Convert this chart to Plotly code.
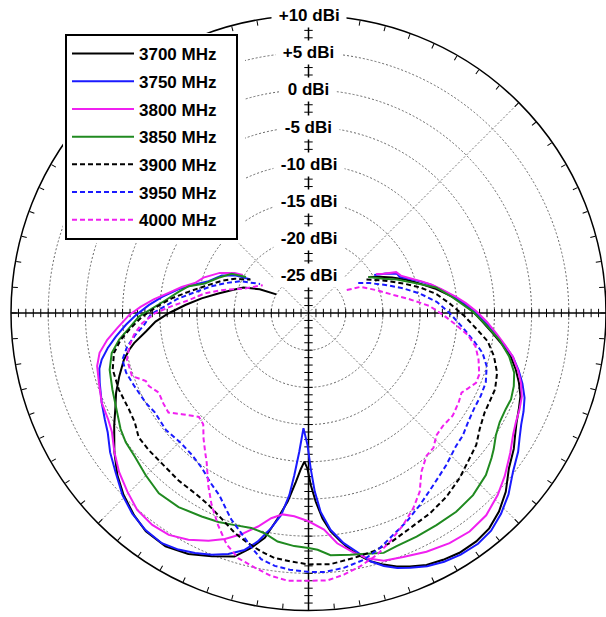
import plotly.graph_objects as go

# ---------------- data (angle in degrees clockwise from top, gain in dBi) ----------------
theta_3700 = [59, 63, 67, 71, 75, 79, 83.6, 86.4, 89.5, 92.8, 96.2, 99.3, 102.1, 105.3, 108.3, 111.4,
              114.6, 117.7, 120.7, 123.5, 127.8, 132.2, 136.2, 140, 143.7, 147.8, 151.4, 154.9, 158.2,
              160.8, 163.4, 166, 168, 170, 172, 174.2, 176.1, 177.8, 179.2, 180.4, 181.6, 182.8, 184.3,
              186.3, 188.5, 191, 193.7, 195.6, 196.9, 201.7, 206.5, 211.5, 216.7, 220.8, 225.4, 229.7,
              234.4, 239.9, 243.6, 247.5, 251.6, 255.8, 258.4, 260.2, 263.5, 266.8, 269.9, 273.7, 277.8,
              282.2, 286.5, 291.3, 296, 300]
gain_3700 = [-20.6, -19.3, -17.8, -16.2, -14.6, -12.7, -10.5, -9.2, -7.9, -6.6, -5.1, -3.6, -2.2, -1.1,
             -0.2, 0.6, 1.1, 1.6, 2.3, 3.1, 4.1, 5.8, 7.0, 7.8, 8.1, 8.1, 7.8, 7.4, 6.7, 6.1, 5.3, 4.4,
             3.4, 2.3, 1.0, -0.5, -2.3, -4.6, -6.8, -9.1, -10.0, -9.0, -7.2, -4.5, -2.1, 0.8, 2.5, 3.5,
             4.2, 5.2, 6.2, 6.8, 6.6, 5.9, 4.9, 3.7, 2.1, 0.2, -1.0, -2.0, -3.2, -4.4, -5.4, -6.2, -8.0,
             -9.4, -11.2, -13.4, -15.5, -17.6, -19.2, -20.6, -22.7, -25.0]

theta_3750 = [60, 63, 66, 68.5, 70.5, 74.4, 77, 80, 83.6, 86.4, 89.5, 92.8, 96.2, 99.3, 102.1, 105.3,
              108.3, 111.4, 114.6, 117.7, 120.7, 123.5, 127.8, 132.2, 136.2, 140, 143.7, 147.8, 151.4,
              154.9, 158.2, 160.8, 163.4, 166, 168.5, 171.3, 174.2, 176.5, 178, 179.2, 180.4, 182.5,
              183.8, 185, 186, 187.7, 189.9, 192.5, 195.1, 198.4, 201.8, 205.3, 208.8, 212.5, 216.9,
              221.3, 225.6, 230.2, 234.9, 239.3, 242.4, 246.6, 251.5, 255.1, 257.3, 260.1, 263, 266.3,
              269.3, 272.8, 276.3, 280.3, 283.4, 287.7, 293.4, 297.1, 300]
gain_3750 = [-19.8, -18.3, -17.0, -16.8, -16.0, -14.3, -13.1, -11.9, -10.3, -9.0, -7.7, -6.3, -4.8, -3.3,
             -1.9, -0.7, 0.3, 1.2, 1.8, 2.3, 3.0, 3.8, 4.8, 6.3, 7.4, 8.2, 8.5, 8.4, 8.1, 7.6, 6.9, 6.3,
             5.5, 4.4, 2.8, 1.3, -0.7, -3.2, -6.0, -9.1, -12.2, -14.5, -11.3, -8.1, -5.4, -2.6, -0.6,
             1.45, 3.0, 4.15, 5.0, 5.7, 6.3, 6.7, 6.5, 5.9, 5.0, 3.7, 2.6, 1.4, 0.9, 0.3, -0.4, -0.9,
             -1.5, -2.6, -3.9, -5.4, -6.8, -8.5, -10.2, -12.2, -13.9, -15.9, -17.3, -18.9, -20.9]

theta_3800 = [60, 62.5, 65, 68, 70.5, 74.4, 77, 80, 83.6, 86.4, 89.5, 92.8, 96.2, 99.3, 102.1, 105.3,
              108.3, 111.4, 114.6, 117.7, 120.7, 124.7, 129.7, 133.9, 138.7, 143.6, 148.5, 153.7, 158.8,
              163.1, 166.6, 169.3, 172.9, 175.9, 180, 184, 187.3, 190.3, 193.3, 196.9, 200.3, 203.7,
              207.9, 212.2, 216.4, 221, 225.4, 230, 234.4, 238.8, 242, 246.6, 251.6, 255.9, 259.2,
              262.4, 265.5, 269.4, 272.1, 275, 278.2, 281.6, 284.8, 288.6, 294.3, 298.5, 300]
gain_3800 = [-19.5, -18.6, -17.0, -16.6, -15.8, -14.2, -13.0, -11.8, -10.1, -8.8, -7.4, -6.0, -4.6, -3.2,
             -1.9, -0.8, 0.1, 0.8, 1.2, 1.5, 2.0, 3.0, 4.3, 5.3, 6.2, 6.5, 6.3, 5.8, 5.2, 4.8, 3.9, 2.8,
             1.2, -0.8, -2.0, -2.6, -2.7, -1.95, -0.5, 1.1, 2.4, 3.45, 4.5, 5.25, 5.4, 5.1, 4.2, 3.25,
             2.1, 0.9, 0.5, 0.3, -0.3, -0.7, -1.4, -2.7, -4.2, -5.9, -7.4, -9.1, -11.0, -12.6, -14.2,
             -15.1, -16.9, -18.7, -19.8]

theta_3850 = [59, 65.4, 69.3, 74, 78.7, 83.8, 89.5, 93.8, 98, 102.2, 106.2, 109.6, 113.1, 116, 119.7,
              123.2, 126.3, 128.4, 132.4, 137.9, 143.4, 148.9, 154.2, 159.3, 162.6, 166.4, 170.2, 174.8,
              177.8, 180, 183.5, 187.7, 191.3, 194.9, 199.2, 203.3, 207.7, 213.8, 219.7, 225.1, 230.5,
              234.7, 238.3, 242.5, 248.7, 254.1, 258.5, 262, 265.2, 268.8, 271.7, 275.1, 279.2, 282.6,
              285.9, 291.4, 297.1, 300]
gain_3850 = [-20.6, -18.9, -17.3, -15.3, -12.5, -10.5, -7.9, -6.1, -4.1, -2.4, -1.2, -0.7, -0.4, -0.5,
             -0.4, 0.1, 0.9, 1.4, 2.3, 3.0, 3.3, 3.3, 3.4, 3.5, 3.8, 3.3, 3.0, 2.7, 1.85, 1.6, 1.4, 1.0,
             0.2, -0.1, 0.2, 0.6, 0.9, 1.4, 1.5, 0.9, 0.3, 0.1, -0.3, -1.0, -1.7, -2.2, -3.0, -4.3,
             -5.8, -7.2, -9.0, -10.7, -12.3, -13.5, -15.5, -17.0, -18.4, -20.3]

theta_3900 = [60, 62.2, 67.8, 72.8, 77.1, 81.6, 86.1, 90.7, 95.2, 99, 103.1, 107.6, 112.2, 115.3, 119.5,
              124.1, 128.2, 132.2, 137.6, 143.1, 148.8, 154.8, 160.5, 164.7, 169.5, 175, 180, 184, 187.9,
              191.2, 194.7, 198.5, 203, 207.5, 212.1, 217.8, 224.2, 229.3, 233.8, 237.8, 241.8, 248,
              253.9, 258.4, 261.9, 265.1, 268.7, 272.4, 276.1, 280, 284.5, 290.2, 295, 297.7, 300]
gain_3900 = [-21.0, -20.4, -18.6, -16.6, -14.6, -12.6, -11.0, -9.2, -7.4, -5.6, -4.4, -3.4, -2.9, -2.9,
             -2.8, -2.2, -1.3, -0.8, 0.1, 0.9, 1.5, 2.0, 2.8, 3.2, 3.5, 3.9, 3.8, 3.5, 3.25, 2.7, 2.0,
             1.2, 0.0, -0.9, -1.35, -1.5, -1.75, -1.7, -1.7, -2.4, -2.6, -2.5, -2.6, -3.3, -4.5, -6.0,
             -7.6, -9.6, -11.5, -13.6, -15.6, -17.5, -19.1, -20.3, -21.0]

theta_3950 = [59, 64.1, 70.5, 75.5, 80.1, 85, 90.1, 95.6, 99.7, 102.9, 106.6, 111.4, 115.7, 119.7, 124.5,
              128.5, 132, 137.9, 144.1, 149.9, 154.8, 159, 163, 167.4, 172.1, 176.6, 180.2, 184.2, 187.6,
              190.9, 193.5, 197.1, 200.6, 203.5, 206, 209.8, 214.5, 219.3, 224.4, 230.6, 237, 241.2,
              247.3, 251.9, 255.9, 259.5, 262.7, 265.7, 269.5, 272, 276, 280, 285, 290, 295, 301]
gain_3950 = [-22.2, -20.8, -18.8, -16.8, -14.8, -12.7, -11.0, -9.1, -7.4, -6.0, -5.0, -4.4, -4.3, -4.3,
             -4.0, -3.5, -3.3, -2.4, -1.4, -0.15, 1.0, 1.9, 3.0, 4.0, 4.6, 4.9, 4.8, 4.6, 4.3, 3.7, 2.5,
             0.9, -0.4, -1.7, -2.7, -3.6, -4.7, -5.3, -5.5, -5.2, -5.4, -5.0, -4.6, -4.2, -4.2, -5.2,
             -6.5, -7.8, -8.8, -10.3, -12.2, -14.3, -16.3, -18.2, -19.9, -22.4]

theta_4000 = [59, 63.3, 71.6, 78.1, 82.4, 86.7, 90.8, 94.6, 97.8, 101.3, 105.3, 109.8, 112.6, 115.4, 117.5,
              120.8, 125.4, 130, 133.8, 137.1, 140.4, 144.6, 148.1, 151.8, 155.9, 160.3, 164.2, 168.4,
              172.3, 176, 180, 184.5, 188.1, 191.9, 196, 199.5, 203.1, 206.8, 210.2, 214.3, 216.6, 219.9,
              223.4, 226.5, 231.4, 234.6, 238, 242, 245.4, 247.3, 250.3, 255.6, 259.5, 262.9, 266.5, 270,
              272.9, 276.1, 280.7, 284.7, 291, 301.3]
gain_4000 = [-24.0, -22.2, -20.3, -18.3, -16.2, -13.7, -11.9, -10.1, -8.4, -7.1, -6.3, -5.6, -5.6, -6.3,
             -6.8, -6.5, -6.2, -6.4, -6.2, -5.3, -5.1, -3.8, -1.7, -0.2, 1.2, 2.6, 3.8, 4.75, 5.5, 6.05,
             6.0, 6.1, 5.7, 5.0, 4.3, 3.0, 1.0, -1.1, -3.2, -5.7, -6.7, -8.0, -9.4, -9.7, -8.2, -6.9,
             -7.0, -7.2, -6.4, -6.3, -4.8, -4.8, -5.5, -6.35, -7.6, -9.4, -11.6, -13.8, -15.8, -17.9,
             -20.8, -22.8]

series_names = ["3700 MHz", "3750 MHz", "3800 MHz", "3850 MHz", "3900 MHz", "3950 MHz", "4000 MHz"]
series_theta = [theta_3700, theta_3750, theta_3800, theta_3850, theta_3900, theta_3950, theta_4000]
series_gain = [gain_3700, gain_3750, gain_3800, gain_3850, gain_3900, gain_3950, gain_4000]

ring_values = [-25, -20, -15, -10, -5, 0, 5, 10]
ring_labels = ["-25 dBi", "-20 dBi", "-15 dBi", "-10 dBi", "-5 dBi", "0 dBi", "+5 dBi", "+10 dBi"]
r_min, r_max = -30, 10

# ---------------- styles ----------------
series_colors = ["#000000", "#1a1aff", "#f020f0", "#208a20", "#000000", "#1a1aff", "#f020f0"]
series_dash = ["solid", "solid", "solid", "solid", "5px,3px", "5px,3px", "5px,3px"]
FONT = "Liberation Sans, Arial, sans-serif"
NBSP = "\u00a0"

W, H = 606, 617
CX, CY, RAD = 308.5, 313.0, 297.5
dom_x = [(CX - RAD) / W, min(1.0, (CX + RAD) / W)]
dom_y = [(H - CY - RAD) / H, (H - CY + RAD) / H]

fig = go.Figure()

# dotted diagonal grid lines
for a in (45, 135):
    fig.add_trace(go.Scatterpolar(r=[r_max, r_min, r_max], theta=[a, a, a + 180], mode="lines",
                                  line=dict(color="#777777", width=1, dash="2px,2px"),
                                  showlegend=False, hoverinfo="skip"))
# solid main axes
for a in (0, 90):
    fig.add_trace(go.Scatterpolar(r=[r_max, r_min, r_max], theta=[a, a, a + 180], mode="lines",
                                  line=dict(color="black", width=1.5),
                                  showlegend=False, hoverinfo="skip"))
# 1 dB tick marks along the main axes
tick_r = list(range(r_min + 1, r_max))
for a, sym in ((0, "line-ew"), (180, "line-ew"), (90, "line-ns"), (270, "line-ns")):
    fig.add_trace(go.Scatterpolar(r=tick_r, theta=[a] * len(tick_r), mode="markers",
                                  marker=dict(symbol=sym, size=6, color="black",
                                              line=dict(color="black", width=1)),
                                  showlegend=False, hoverinfo="skip"))

# data curves
for th, g, name, col, dash in zip(series_theta, series_gain, series_names, series_colors, series_dash):
    fig.add_trace(go.Scatterpolar(r=g, theta=th, mode="lines", name=name + NBSP * 3,
                                  legendgroup=name,
                                  line=dict(color=col, width=2, dash=dash)))

# ring labels on the vertical axis
annotations = []
for v, lab in zip(ring_values, ring_labels):
    ypx = CY - (v - r_min) / (r_max - r_min) * RAD
    annotations.append(dict(x=CX / W, y=1 - ypx / H, xref="paper", yref="paper",
                            text=NBSP + lab + NBSP, showarrow=False,
                            xanchor="center", yanchor="middle", bgcolor="white", borderpad=2,
                            font=dict(family=FONT, size=17, color="black", weight="bold")))

fig.update_layout(
    width=W, height=H, margin=dict(l=0, r=0, t=0, b=0),
    paper_bgcolor="white", plot_bgcolor="white",
    polar=dict(
        domain=dict(x=dom_x, y=dom_y),
        bgcolor="white",
        radialaxis=dict(range=[r_min, r_max], tickvals=ring_values[:-1], showticklabels=False,
                        ticks="", showline=False, gridcolor="#666666", griddash="2px,2px", gridwidth=1),
        angularaxis=dict(rotation=90, direction="clockwise", tickmode="array",
                         tickvals=list(range(0, 360, 5)), showticklabels=False, ticks="inside",
                         ticklen=5, tickwidth=1, tickcolor="black", showgrid=False,
                         showline=True, linecolor="black", linewidth=1.5),
    ),
    showlegend=True,
    legend=dict(x=65 / W, y=1 - 34 / H, xanchor="left", yanchor="top", bgcolor="white",
                bordercolor="black", borderwidth=2, itemwidth=62, tracegroupgap=2.6,
                traceorder="grouped",
                font=dict(family=FONT, size=17, color="black", weight="bold")),
    annotations=annotations,
    shapes=[dict(type="rect", xref="paper", yref="paper", x0=63 / W, x1=245 / W,
                 y0=1 - 243 / H, y1=1 - 33 / H, fillcolor="white", line=dict(width=0),
                 layer="above")],
)

fig.write_html("out.html", config={"displayModeBar": False},
               post_script="document.body.style.margin='0';")
